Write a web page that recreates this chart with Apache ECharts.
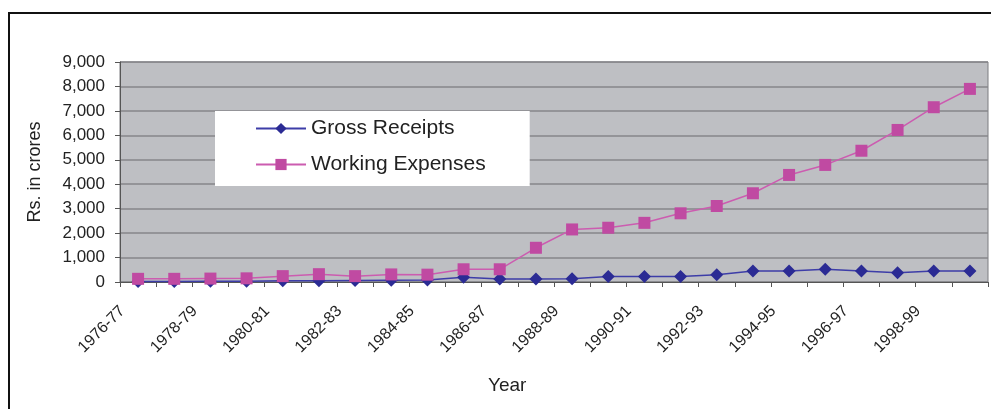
<!DOCTYPE html>
<html>
<head>
<meta charset="utf-8">
<script src="https://cdn.jsdelivr.net/npm/echarts@6/dist/echarts.min.js"></script>
<style>
  html, body { margin: 0; padding: 0; background: #fff; }
  #chart { width: 991px; height: 409px; }
</style>
</head>
<body>
<div id="chart"></div>
<script>
// Fiscal years shown on the category axis
const years = [
  '1976-77', '1977-78', '1978-79', '1979-80', '1980-81', '1981-82',
  '1982-83', '1983-84', '1984-85', '1985-86', '1986-87', '1987-88',
  '1988-89', '1989-90', '1990-91', '1991-92', '1992-93', '1993-94',
  '1994-95', '1995-96', '1996-97', '1997-98', '1998-99', '1999-00'
];

// Rs. in crores
const grossReceipts = [
  20, 25, 30, 35, 50, 50, 60, 70, 80, 190, 120, 120,
  130, 220, 220, 230, 300, 450, 450, 520, 450, 380, 450, 450
];
const workingExpenses = [
  130, 130, 140, 150, 240, 320, 240, 310, 300, 520, 520, 1400,
  2150, 2220, 2420, 2810, 3110, 3630, 4380, 4790, 5370, 6220, 7150, 7900
];

const yTicks = [0, 1000, 2000, 3000, 4000, 5000, 6000, 7000, 8000, 9000];

const chart = echarts.init(document.getElementById('chart'));
const FONT = 'Liberation Sans, Arial, sans-serif';

chart.setOption({
  animation: false,
  textStyle: { fontFamily: FONT },
  graphic: [
    {
      type: 'rect',
      shape: { x: 9, y: 13, width: 1100, height: 600 },
      style: { fill: 'none', stroke: '#111', lineWidth: 2 },
      z: 0
    },
    {
      type: 'text',
      left: 488, top: 376,
      style: { text: 'Year', font: '19px ' + FONT, fill: '#222' }
    }
  ],
  grid: {
    left: 120, top: 62, right: 3, bottom: 127,
    show: true,
    backgroundColor: '#bebfc3',
    borderColor: '#7d7d80',
    borderWidth: 1
  },
  legend: {
    orient: 'vertical',
    left: 215, top: 111,
    backgroundColor: '#fff',
    padding: [7, 44, 11, 40],
    itemGap: 15,
    itemWidth: 50,
    itemHeight: 14,
    textStyle: { fontSize: 21, color: '#222', fontFamily: FONT },
    data: ['Gross Receipts', 'Working Expenses']
  },
  xAxis: {
    type: 'category',
    data: years,
    boundaryGap: true,
    axisLine: { lineStyle: { color: '#555', width: 1 } },
    axisTick: { show: true, interval: 0, length: 5, lineStyle: { color: '#555' } },
    axisLabel: {
      interval: 1,
      rotate: 45,
      margin: 11,
      padding: [0, 22, 0, 0],
      fontSize: 16,
      color: '#222',
      fontFamily: FONT
    },
    splitLine: { show: false }
  },
  yAxis: {
    type: 'value',
    min: 0, max: 9000, interval: 1000,
    name: 'Rs. in crores',
    nameLocation: 'middle',
    nameGap: 76,
    nameTextStyle: { fontSize: 18, color: '#222', fontFamily: FONT },
    axisLine: { show: true, lineStyle: { color: '#555' } },
    axisTick: { show: true, length: 5, lineStyle: { color: '#555' } },
    axisLabel: {
      fontSize: 17,
      color: '#222',
      margin: 15,
      fontFamily: FONT,
      formatter: v => yTicks.includes(v) ? v.toLocaleString('en-US') : ''
    },
    splitLine: { show: true, lineStyle: { color: '#86868a', width: 1.5 } }
  },
  series: [
    {
      name: 'Gross Receipts',
      type: 'line',
      data: grossReceipts,
      symbol: 'diamond',
      symbolSize: 13,
      itemStyle: { color: '#2b2b94' },
      lineStyle: { color: '#3d3da8', width: 1.5 },
      z: 3
    },
    {
      name: 'Working Expenses',
      type: 'line',
      data: workingExpenses,
      symbol: 'rect',
      symbolSize: 12,
      itemStyle: { color: '#c04aa2' },
      lineStyle: { color: '#cc5cb0', width: 1.5 },
      z: 4
    }
  ]
});
</script>
</body>
</html>
